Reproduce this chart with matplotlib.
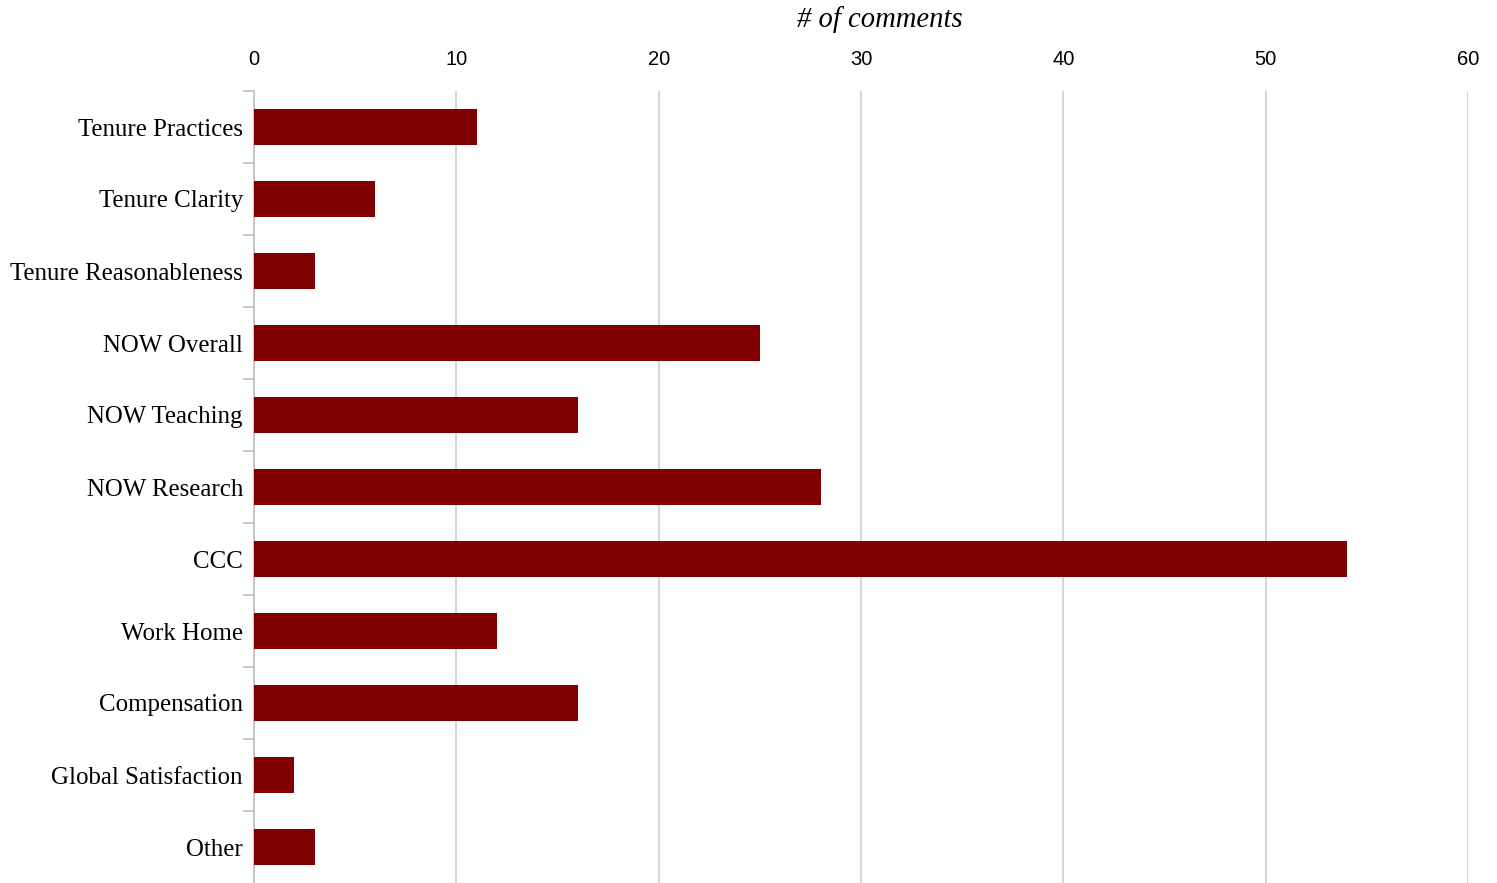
import matplotlib
matplotlib.use("Agg")
import matplotlib.pyplot as plt
from matplotlib.ticker import FixedLocator

categories = ["Tenure Practices", "Tenure Clarity", "Tenure Reasonableness", "NOW Overall",
              "NOW Teaching", "NOW Research", "CCC", "Work Home", "Compensation",
              "Global Satisfaction", "Other"]
values = [11, 6, 3, 25, 16, 28, 54, 12, 16, 2, 3]
xticks = [0, 10, 20, 30, 40, 50, 60]

W, H = 1497, 883
fig = plt.figure(figsize=(W / 100, H / 100), dpi=100)
ax = fig.add_axes([254 / W, 0, (1468 - 254) / W, (883 - 91) / H])

n = len(categories)
ypos = list(range(n))
ax.barh(ypos, values, height=0.5, color="#800000", zorder=3)
ax.set_ylim(n - 0.5, -0.5)
ax.set_xlim(0, 60)

ax.xaxis.tick_top()
ax.set_xticks(xticks)
ax.set_xticklabels([str(t) for t in xticks], fontfamily="Liberation Sans", fontsize=14.5)
ax.tick_params(axis="x", length=0, pad=16)
ax.grid(axis="x", color="#d0d0d0", linewidth=1.2, zorder=0)

ax.set_yticks(ypos)
ax.set_yticklabels(categories, fontfamily="Liberation Serif", fontsize=17.9)
ax.tick_params(axis="y", which="major", length=0, pad=8)
ax.yaxis.set_minor_locator(FixedLocator([i - 0.5 for i in range(n)]))
ax.tick_params(axis="y", which="minor", length=8, color="#c0c0c0", width=1.2)

for s in ["top", "right", "bottom"]:
    ax.spines[s].set_visible(False)
ax.spines["left"].set_color("#c0c0c0")
ax.spines["left"].set_linewidth(1.2)

fig.text(880 / W, 1 - 20 / H, "# of comments", ha="center", va="center",
         fontfamily="Liberation Serif", fontstyle="italic", fontsize=20.6)

fig.savefig("out.png", dpi=100)
